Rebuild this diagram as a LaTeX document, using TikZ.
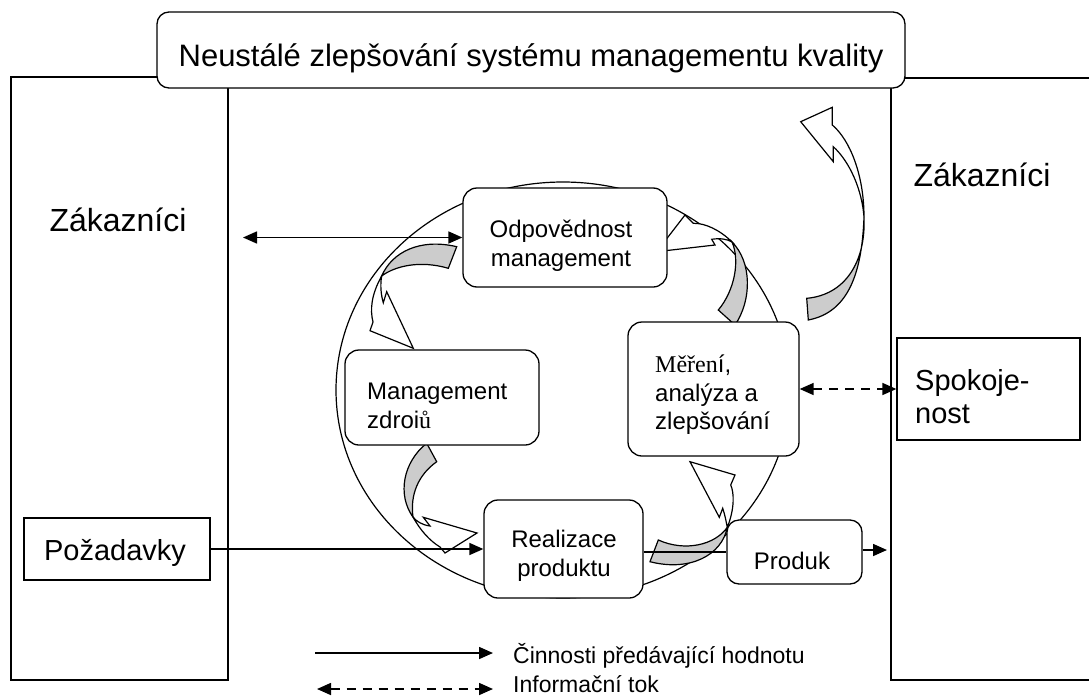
\documentclass[tikz,border=0pt]{standalone}
\usepackage{fontspec}
\setmainfont{Liberation Sans}
\newfontfamily\serifz{Liberation Serif}
\usetikzlibrary{arrows.meta}
\begin{document}
\begin{tikzpicture}[x=1pt,y=-1pt,
  rbox/.style={draw, line width=1.3pt, fill=white, rounded corners=14pt, inner sep=0pt},
  sbox/.style={draw, line width=1.3pt, fill=white, inner sep=0pt},
  bigtxt/.style={font=\fontsize{32}{36}\selectfont, inner sep=0pt},
  lbltxt/.style={font=\fontsize{29}{33}\selectfont, inner sep=0pt},
  midtxt/.style={font=\fontsize{24}{28.5}\selectfont, inner sep=0pt},
  legtxt/.style={font=\fontsize{23}{28}\selectfont, inner sep=0pt},
  tip/.tip={Triangle[length=14pt,width=12pt]},
  flow/.style={line width=1.6pt, -tip},
  flowtwo/.style={line width=1.6pt, tip-tip},
  info/.style={line width=1.6pt, dash pattern=on 9pt off 7pt, tip-tip},
  barrow/.style={draw, line width=1.2pt, line join=miter},
  grayface/.style={barrow, fill=black!20},
  whiteface/.style={barrow, fill=white}
]
\useasboundingbox (0,0) rectangle (1089,696);

% customer frames
\node[sbox, minimum width=217, minimum height=603] (custL) at (119.5,378.5) {};
\draw[line width=1.3pt] (1092,78) -- (891,78) -- (891,680) -- (1092,680);
\coordinate (custR) at (891,78);

% title box
\node[rbox, rounded corners=12pt, minimum width=748, minimum height=76] (top) at (531,50) {};
\node[font=\fontsize{31}{36}\selectfont, inner sep=0pt] (title) at (531,58) {Neustálé zlepšování systému managementu kvality};

% cycle ellipse
\draw[line width=1.2pt] (563,390) ellipse [x radius=227, y radius=208];

% arrow 1 (outside, up)
\draw[whiteface] (832.3,125) -- (832.3,107.3) -- (800.7,121.7) -- (833.3,161.7) -- (833.3,146.7)
   .. controls (850,162) and (862,190) .. (864,217) .. controls (864,175) and (850,140) .. cycle;
\draw[grayface] (864,217) .. controls (866,262) and (845,295) .. (806.7,298.3) -- (808.3,320)
   .. controls (850,312) and (862,270) .. cycle;

% arrow 2 (Odpovednost -> Management zdroju)
\draw[grayface] (456.7,246.7) .. controls (420,238) and (392,252) .. (381.7,276)
   .. controls (395,266) and (420,260) .. (448.3,268.3) -- cycle;
\draw[whiteface] (381.7,276) .. controls (371,295) and (370,310) .. (373,322) -- (370,330.7)
   -- (413.3,348.3) -- (386.7,291.7) -- (383.3,302.7) .. controls (381,295) and (380,285) .. cycle;

% arrow 3 (Management zdroju -> Realizace)
\draw[grayface] (426.7,443.3) .. controls (403,462) and (397,495) .. (413,517)
   .. controls (410,495) and (418,475) .. (436.7,461.7) -- cycle;
\draw[whiteface] (413,517) .. controls (420,530) and (430,541) .. (440,547) -- (445,553)
   -- (477,533) -- (423.3,517.3) -- (430,526) .. controls (422,525) and (416,521) .. cycle;

% arrow 4 (Realizace -> Mereni)
\draw[grayface] (658.3,540) .. controls (685,552) and (715,545) .. (727.3,527.3)
   .. controls (722,555) and (690,572) .. (650,561.7) -- cycle;
\draw[whiteface] (727.3,527.3) .. controls (735,508) and (734,492) .. (730.7,485) -- (735,475)
   -- (690,461.7) -- (719.3,517.3) -- (722.7,508.3) .. controls (725,515) and (726,521) .. cycle;

% arrow 5 (Mereni -> Odpovednost)
\draw[grayface] (718.3,310) .. controls (735,290) and (740,260) .. (732,242)
   .. controls (752,262) and (752,300) .. (735,325) -- cycle;
\draw[whiteface] (732,242) .. controls (720,230) and (705,223) .. (693.3,223.3) -- (685,215)
   -- (656.7,251.7) -- (715,245) -- (711.7,239.3) .. controls (720,238) and (727,239) .. cycle;

% process boxes
\node[rbox, minimum width=204, minimum height=99] (odp) at (565,237.5) {};
\node[rbox, minimum width=194, minimum height=95] (mgmt) at (442,397.5) {};
\node[rbox, minimum width=159, minimum height=98] (real) at (563.5,549) {};
\node[rbox, minimum width=171, minimum height=134] (mer) at (713.5,389) {};
\node[rbox, rounded corners=12pt, minimum width=135, minimum height=64] (prod) at (794.5,552) {};
\node[sbox, minimum width=186, minimum height=62] (pozad) at (117,549) {};
\node[sbox, minimum width=183, minimum height=102] (spok) at (988.5,389) {};

% texts
\node[midtxt, align=center] (odpt) at (561,246) {Odpovědnost\\management};
\node[midtxt, align=left, anchor=west] (mgmtt) at (367,406) {Management\\zdroi{\serifz ů}};
\node[midtxt, align=center] (realt) at (564,556) {Realizace\\produktu};
\node[midtxt, align=left, anchor=west] (mert) at (655,395) {{\serifz Měřen}í,\\analýza a\\zlepšování};
\node[midtxt] (prodt) at (792,561) {Produk};
\node[lbltxt] (pozadt) at (115,553) {Požadavky};
\node[lbltxt, align=left, anchor=west] (spokt) at (915,397) {Spokoje-\\nost};
\node[bigtxt] (zakL) at (118,220) {Zákazníci};
\node[bigtxt] (zakR) at (982,175) {Zákazníci};

% connectors
\coordinate (zl) at (243,237.5);
\draw[flowtwo] (zl) -- (odp.west);
\draw[flow] (pozad.east) -- (real.west);
\draw[line width=1.6pt] (real.east |- prod.west) -- (prod.west);
\coordinate (pout) at (887,550);
\draw[flow] (prod.east |- pout) -- (pout);
\draw[info] (mer.east) -- (spok.west);

% legend
\coordinate (l1a) at (315,653);
\coordinate (l1b) at (493,653);
\coordinate (l2a) at (317,689);
\coordinate (l2b) at (493,689);
\draw[flow] (l1a) -- (l1b);
\draw[info] (l2a) -- (l2b);
\node[legtxt, anchor=base west] (leg1) at (513,663) {Činnosti předávající hodnotu};
\node[legtxt, anchor=base west] (leg2) at (513,692) {Informační tok};
\end{tikzpicture}
\end{document}
